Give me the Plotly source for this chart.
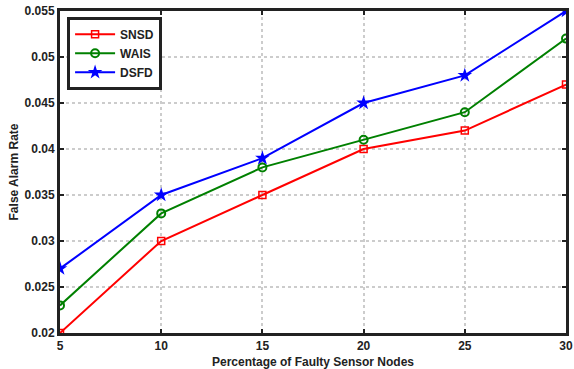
import plotly.graph_objects as go

x_vals = [5, 10, 15, 20, 25, 30]
snsd = [0.020, 0.030, 0.035, 0.040, 0.042, 0.047]
wais = [0.023, 0.033, 0.038, 0.041, 0.044, 0.052]
dsfd = [0.027, 0.035, 0.039, 0.045, 0.048, 0.055]
y_ticks = [0.02, 0.025, 0.03, 0.035, 0.04, 0.045, 0.05, 0.055]
y_tick_labels = ["0.02", "0.025", "0.03", "0.035", "0.04", "0.045", "0.05", "0.055"]

fig = go.Figure()
fig.add_trace(go.Scatter(x=x_vals, y=snsd, name="SNSD", mode="lines+markers", legendgroup="a",
                         line=dict(color="#ff0000", width=2),
                         marker=dict(symbol="square-open", size=7, color="#ff0000", line=dict(width=1.5))))
fig.add_trace(go.Scatter(x=x_vals, y=wais, name="WAIS", mode="lines+markers", legendgroup="b",
                         line=dict(color="#008000", width=2),
                         marker=dict(symbol="circle-open", size=8, color="#008000", line=dict(width=2))))
fig.add_trace(go.Scatter(x=x_vals, y=dsfd, name="DSFD", mode="lines+markers", legendgroup="c",
                         line=dict(color="#0000ff", width=2),
                         marker=dict(symbol="star", size=11, color="#0000ff")))

font_b = dict(family="Liberation Sans", size=12, color="#222222", weight="bold")
axis_common = dict(showline=True, linewidth=3, linecolor="#222222", mirror="ticks",
                   ticks="inside", ticklen=4, tickwidth=2, tickcolor="#222222",
                   showgrid=True, gridcolor="#cccccc", griddash="dot", gridwidth=2,
                   zeroline=False, automargin=False, tickfont=font_b)

fig.update_xaxes(range=[5, 30], tickvals=x_vals, ticktext=[str(v) for v in x_vals],
                 title=dict(text="Percentage of Faulty Sensor Nodes", standoff=7, font=font_b),
                 **axis_common)
fig.update_yaxes(range=[0.02, 0.055], tickvals=y_ticks, ticktext=y_tick_labels,
                 title=dict(text="False Alarm Rate", standoff=4, font=font_b),
                 **axis_common)

fig.update_layout(
    width=574, height=369,
    margin=dict(l=60, r=8, t=11, b=36),
    paper_bgcolor="white", plot_bgcolor="white",
    showlegend=True,
    legend=dict(x=0.014, y=0.982, xanchor="left", yanchor="top",
                bordercolor="#222222", borderwidth=3, bgcolor="white",
                font=font_b, itemwidth=40, tracegroupgap=6,
                traceorder="normal"),
)

fig.write_html("out.html", config={"displayModeBar": False},
               post_script="document.body.style.margin='0';document.body.style.overflow='hidden';")
